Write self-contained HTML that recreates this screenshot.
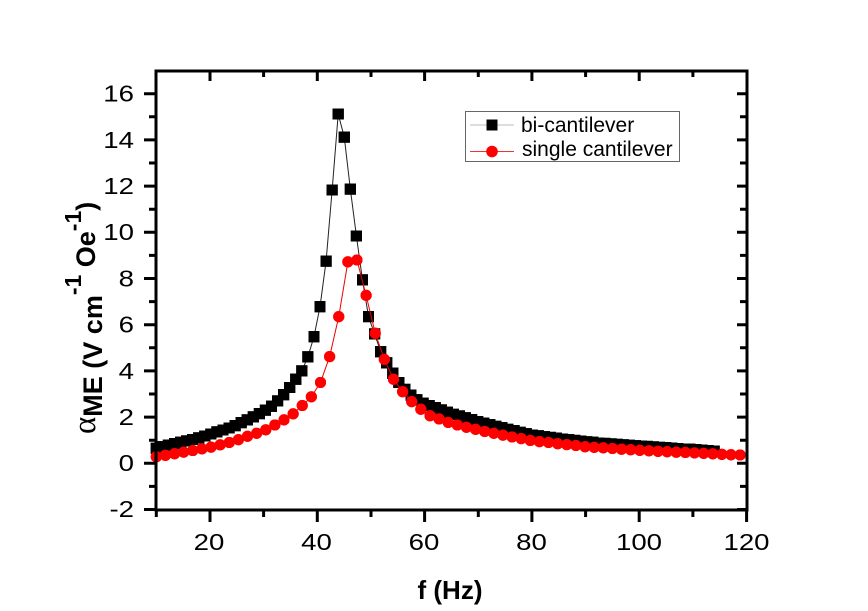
<!DOCTYPE html>
<html>
<head>
<meta charset="utf-8">
<style>
html,body{margin:0;padding:0;background:#fff;}
svg{display:block;}
</style>
</head>
<body>
<svg width="868" height="611" viewBox="0 0 868 611" xmlns="http://www.w3.org/2000/svg">
<defs>
<marker id="sq" markerUnits="userSpaceOnUse" viewBox="0 0 10 10" preserveAspectRatio="none" markerWidth="2.1245" markerHeight="0.4935" refX="5" refY="5"><rect x="0" y="0" width="10" height="10" fill="#000"/></marker>
<marker id="ci" markerUnits="userSpaceOnUse" viewBox="0 0 10 10" preserveAspectRatio="none" markerWidth="2.1245" markerHeight="0.4935" refX="5" refY="5"><circle cx="5" cy="5" r="5" fill="#f00"/></marker>
</defs>
<rect width="868" height="611" fill="#fff"/>

<!-- data -->
<g transform="translate(102.64,463.3) scale(5.366,-23.1)">
<polyline fill="none" stroke="#222" stroke-width="1" vector-effect="non-scaling-stroke" marker-start="url(#sq)" marker-mid="url(#sq)" marker-end="url(#sq)" points="10,0.65 11.13,0.717 12.26,0.783 13.39,0.85 14.52,0.911 15.65,0.968 16.78,1.03 17.91,1.10 19.04,1.18 20.17,1.27 21.30,1.36 22.43,1.44 23.56,1.53 24.69,1.63 25.82,1.76 26.95,1.88 28.08,2.01 29.21,2.15 30.34,2.30 31.47,2.47 32.60,2.70 33.73,2.97 34.86,3.28 35.99,3.64 37.12,4.0 38.25,4.61 39.38,5.48 40.51,6.78 41.64,8.75 42.77,11.83 43.90,15.12 45.03,14.12 46.16,11.87 47.29,9.84 48.42,7.94 49.55,6.35 50.68,5.6 51.81,4.83 52.94,4.35 54.07,3.9 55.20,3.5 56.33,3.2 57.46,2.95 58.59,2.75 59.72,2.6 60.85,2.50 61.98,2.41 63.11,2.31 64.24,2.21 65.37,2.12 66.50,2.05 67.63,1.97 68.76,1.89 69.89,1.81 71.02,1.74 72.15,1.67 73.28,1.60 74.41,1.54 75.54,1.47 76.67,1.41 77.80,1.34 78.93,1.28 80.06,1.22 81.19,1.19 82.32,1.15 83.45,1.12 84.58,1.09 85.71,1.05 86.84,1.02 87.97,0.99 89.10,0.96 90.23,0.93 91.36,0.91 92.49,0.88 93.62,0.86 94.75,0.84 95.88,0.82 97.01,0.80 98.14,0.78 99.27,0.76 100.40,0.74 101.53,0.73 102.66,0.71 103.79,0.69 104.92,0.68 106.05,0.66 107.18,0.64 108.31,0.62 109.44,0.61 110.57,0.59 111.70,0.57 112.83,0.55 113.96,0.53"/>
<polyline fill="none" stroke="#e00" stroke-width="1" vector-effect="non-scaling-stroke" marker-start="url(#ci)" marker-mid="url(#ci)" marker-end="url(#ci)" points="10,0.28 11.7,0.347 13.4,0.414 15.1,0.483 16.8,0.552 18.5,0.625 20.2,0.70 21.9,0.80 23.6,0.90 25.3,1.025 27.0,1.17 28.7,1.30 30.4,1.45 32.1,1.66 33.8,1.88 35.5,2.14 37.2,2.50 38.9,2.88 40.6,3.5 42.3,4.62 44.0,6.35 45.7,8.72 47.4,8.8 49.1,7.27 50.8,5.63 52.5,4.5 54.2,3.64 55.9,3.1 57.6,2.67 59.3,2.34 61.0,2.06 62.7,1.92 64.4,1.77 66.1,1.66 67.8,1.56 69.5,1.47 71.2,1.38 72.9,1.30 74.6,1.22 76.3,1.14 78.0,1.07 79.7,0.99 81.4,0.94 83.1,0.90 84.8,0.85 86.5,0.81 88.2,0.77 89.9,0.72 91.6,0.69 93.3,0.67 95.0,0.64 96.7,0.61 98.4,0.59 100.1,0.56 101.8,0.54 103.5,0.52 105.2,0.50 106.9,0.48 108.6,0.47 110.3,0.45 112.0,0.43 113.7,0.41 115.4,0.39 117.1,0.37 118.8,0.36"/>
</g>

<!-- frame -->
<rect x="156" y="71" width="591" height="439" fill="none" stroke="#000" stroke-width="3"/>

<!-- ticks -->
<g stroke="#000" stroke-width="3">
<path d="M144 509.5H156M144 463.3H156M144 417.1H156M144 370.9H156M144 324.7H156M144 278.5H156M144 232.3H156M144 186.1H156M144 139.9H156M144 93.7H156"/>
<path d="M149 486.4H156M149 440.2H156M149 394H156M149 347.8H156M149 301.6H156M149 255.4H156M149 209.2H156M149 163H156M149 116.8H156"/>
<path d="M737 509.5H747M737 463.3H747M737 417.1H747M737 370.9H747M737 324.7H747M737 278.5H747M737 232.3H747M737 186.1H747M737 139.9H747M737 93.7H747"/>
<path d="M740 486.4H747M740 440.2H747M740 394H747M740 347.8H747M740 301.6H747M740 255.4H747M740 209.2H747M740 163H747M740 116.8H747"/>
<path d="M210 510V522M317.3 510V522M424.6 510V522M531.9 510V522M639.2 510V522M746.6 510V522"/>
<path d="M156.3 510V517M263.6 510V517M371 510V517M478.3 510V517M585.6 510V517M692.9 510V517"/>
<path d="M210 71V81M317.3 71V81M424.6 71V81M531.9 71V81M639.2 71V81"/>
<path d="M263.6 71V77M371 71V77M478.3 71V77M585.6 71V77M692.9 71V77"/>
</g>

<!-- y tick labels -->
<g font-family="Liberation Sans, Arial, sans-serif" font-size="23" fill="#000" text-anchor="end">
<text transform="translate(134,517) scale(1.2,1)">-2</text>
<text transform="translate(134,471) scale(1.2,1)">0</text>
<text transform="translate(134,425) scale(1.2,1)">2</text>
<text transform="translate(134,379) scale(1.2,1)">4</text>
<text transform="translate(134,332.5) scale(1.2,1)">6</text>
<text transform="translate(134,286.5) scale(1.2,1)">8</text>
<text transform="translate(134,240) scale(1.2,1)">10</text>
<text transform="translate(134,194) scale(1.2,1)">12</text>
<text transform="translate(134,148) scale(1.2,1)">14</text>
<text transform="translate(134,101.5) scale(1.2,1)">16</text>
</g>

<!-- x tick labels -->
<g font-family="Liberation Sans, Arial, sans-serif" font-size="23" fill="#000" text-anchor="middle">
<text transform="translate(209,550) scale(1.2,1)">20</text>
<text transform="translate(316.5,550) scale(1.2,1)">40</text>
<text transform="translate(424,550) scale(1.2,1)">60</text>
<text transform="translate(531.5,550) scale(1.2,1)">80</text>
<text transform="translate(639,550) scale(1.2,1)">100</text>
<text transform="translate(746.5,550) scale(1.2,1)">120</text>
</g>

<!-- x title -->
<text x="450" y="599" font-family="Liberation Sans, Arial, sans-serif" font-size="26" font-weight="bold" text-anchor="middle" fill="#000">f (Hz)</text>

<!-- y title -->
<text transform="translate(102,434) rotate(-90)" font-family="Liberation Sans, Arial, sans-serif" font-size="27" font-weight="bold" fill="#000"><tspan font-family="Liberation Serif, serif" font-weight="normal" font-size="33" dy="-7">α</tspan><tspan dy="7">ME (V cm</tspan><tspan font-size="23" dy="-21">-1</tspan><tspan dy="14"> Oe</tspan><tspan font-size="23" dy="-14">-1</tspan><tspan dy="14">)</tspan></text>

<!-- legend -->
<rect x="465.5" y="111.5" width="214" height="50" fill="#fff" stroke="#666" stroke-width="1"/>
<line x1="470" y1="125" x2="514" y2="125" stroke="#bbb" stroke-width="1"/>
<rect x="486.5" y="119.5" width="11" height="11" fill="#000"/>
<line x1="470" y1="151.5" x2="514" y2="151.5" stroke="#e33" stroke-width="1"/>
<circle cx="492" cy="151.5" r="5.8" fill="#f00"/>
<g font-family="Liberation Sans, Arial, sans-serif" font-size="21" fill="#000">
<text x="521" y="132">bi-cantilever</text>
<text x="522" y="156">single cantilever</text>
</g>
</svg>
</body>
</html>
